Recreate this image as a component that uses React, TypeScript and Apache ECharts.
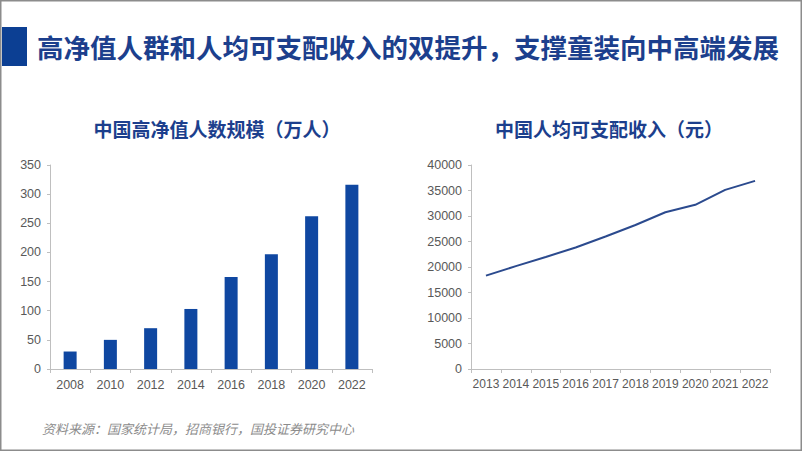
import React, { useEffect, useRef } from "react";
import * as echarts from "echarts";

const barYears = ["2008", "2010", "2012", "2014", "2016", "2018", "2020", "2022"];
const hnwPopulation = [30, 50, 70, 103, 158, 197, 262, 316];

const incomeYears = ["2013", "2014", "2015", "2016", "2017", "2018", "2019", "2020", "2021", "2022"];
const disposableIncome = [18311, 20167, 21966, 23821, 25974, 28228, 30733, 32189, 35128, 36883];

const mainTitle = "高净值人群和人均可支配收入的双提升，支撑童装向中高端发展";
const leftTitle = "中国高净值人数规模（万人）";
const rightTitle = "中国人均可支配收入（元）";
const sourceNote = "资料来源：国家统计局，招商银行，国投证券研究中心";

const AXIS_COLOR = "#bfbfbf";
const LABEL_COLOR = "#595959";
const LABEL_FONT = "'Liberation Sans', 'Noto Sans', sans-serif";
const CJK = "'Noto Sans CJK SC', sans-serif";

export default function App() {
  const ref = useRef<HTMLDivElement>(null);
  useEffect(() => {
    document.body.style.margin = "0";
    const chart = echarts.init(ref.current!, undefined, { renderer: "svg" });
    const axisLabel = { color: LABEL_COLOR, fontSize: 12.5, fontFamily: LABEL_FONT };
    chart.setOption({
      animation: false,
      backgroundColor: "#ffffff",
      grid: [
        { left: 50, right: 430, top: 165, bottom: 82 },
        { left: 471, right: 32, top: 165, bottom: 82 },
      ],
      xAxis: [
        {
          type: "category",
          gridIndex: 0,
          data: barYears,
          axisLine: { lineStyle: { color: AXIS_COLOR } },
          axisTick: { show: true, length: 4, lineStyle: { color: AXIS_COLOR } },
          axisLabel: { ...axisLabel, margin: 9 },
        },
        {
          type: "category",
          gridIndex: 1,
          data: incomeYears,
          axisLine: { lineStyle: { color: AXIS_COLOR } },
          axisTick: { show: true, length: 4, lineStyle: { color: AXIS_COLOR } },
          axisLabel: { ...axisLabel, fontSize: 12, margin: 9, interval: 0 },
        },
      ],
      yAxis: [
        {
          type: "value",
          gridIndex: 0,
          min: 0,
          max: 350,
          interval: 50,
          axisLine: { show: true, lineStyle: { color: AXIS_COLOR } },
          axisTick: { show: true, length: 3, lineStyle: { color: AXIS_COLOR } },
          splitLine: { show: false },
          axisLabel: { ...axisLabel, margin: 9 },
        },
        {
          type: "value",
          gridIndex: 1,
          min: 0,
          max: 40000,
          interval: 5000,
          axisLine: { show: true, lineStyle: { color: AXIS_COLOR } },
          axisTick: { show: true, length: 3, lineStyle: { color: AXIS_COLOR } },
          splitLine: { show: false },
          axisLabel: { ...axisLabel, margin: 9, formatter: (v: number) => String(v) },
        },
      ],
      series: [
        {
          type: "bar",
          xAxisIndex: 0,
          yAxisIndex: 0,
          data: hnwPopulation,
          barWidth: 13,
          itemStyle: { color: "#0f47a1" },
        },
        {
          type: "line",
          xAxisIndex: 1,
          yAxisIndex: 1,
          data: disposableIncome,
          symbol: "none",
          lineStyle: { color: "#2b4a8e", width: 2 },
        },
      ],
      graphic: [
        {
          type: "rect",
          shape: { x: 0.75, y: 0.75, width: 800.5, height: 449.5 },
          style: { fill: "none", stroke: "#8c8c8c", lineWidth: 1.5 },
          silent: true,
        },
        {
          type: "rect",
          shape: { x: 2, y: 27, width: 25, height: 39 },
          style: { fill: "#0c3f93" },
        },
        {
          type: "text",
          x: 37,
          y: 46,
          style: {
            text: mainTitle,
            fontSize: 26.5,
            fontWeight: "bold",
            fontFamily: CJK,
            fill: "#1c3f8d",
            verticalAlign: "middle",
            align: "left",
          },
        },
        {
          type: "text",
          x: 217,
          y: 128,
          style: {
            text: leftTitle,
            fontSize: 19,
            fontWeight: "bold",
            fontFamily: CJK,
            fill: "#1c3f8d",
            align: "center",
            verticalAlign: "middle",
          },
        },
        {
          type: "text",
          x: 609,
          y: 128,
          style: {
            text: rightTitle,
            fontSize: 19,
            fontWeight: "bold",
            fontFamily: CJK,
            fill: "#1c3f8d",
            align: "center",
            verticalAlign: "middle",
          },
        },
        {
          type: "text",
          x: 42,
          y: 428,
          style: {
            text: sourceNote,
            fontSize: 13,
            fontStyle: "italic",
            fontFamily: CJK,
            fill: "#8c8c8c",
            align: "left",
            verticalAlign: "middle",
          },
        },
      ],
    });
    return () => chart.dispose();
  }, []);
  return <div ref={ref} style={{ width: 802, height: 451 }} />;
}
